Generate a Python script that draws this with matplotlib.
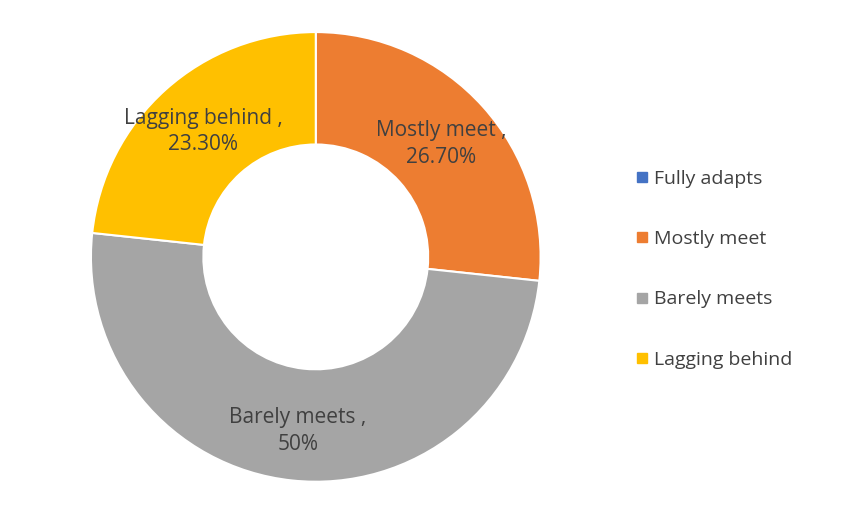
import numpy as np
import matplotlib.pyplot as plt
from matplotlib.lines import Line2D

plt.rcParams['font.family'] = ['Open Sans', 'DejaVu Sans']

categories = ["Fully adapts", "Mostly meet", "Barely meets", "Lagging behind"]
values = [0.0, 26.7, 50.0, 23.3]
value_labels = ["0%", "26.70%", "50%", "23.30%"]
colors = ["#4472C4", "#ED7D31", "#A5A5A5", "#FFC000"]
text_color = "#404040"

fig = plt.figure(figsize=(8.5, 5.07), dpi=100)
ax = fig.add_axes([0.107, 0.0493, 0.529, 0.888])

# zero slice is left out of the pie but kept in the legend
shown = [i for i, v in enumerate(values) if v > 0]
wedges, texts = ax.pie([values[i] for i in shown],
                       colors=[colors[i] for i in shown],
                       labels=["%s ,\n%s" % (categories[i], value_labels[i]) for i in shown],
                       labeldistance=0.75, startangle=90, counterclock=False,
                       radius=1.0,
                       wedgeprops=dict(width=0.5, edgecolor="white", linewidth=1.5),
                       textprops=dict(fontsize=15, color=text_color))
for t in texts:
    t.set_ha("center")
    t.set_va("center")
    t.set_multialignment("center")
    t.set_linespacing(1.35)
bx, by = texts[1].get_position()
texts[1].set_position((bx, by - 0.03))
ax.set_xlim(-1, 1)
ax.set_ylim(-1, 1)
ax.set_aspect("equal")

handles = [Line2D([], [], marker="s", linestyle="none", markersize=7,
                  markerfacecolor=c, markeredgecolor=c) for c in colors]
leg = fig.legend(handles, categories, loc="center left", bbox_to_anchor=(0.727, 0.469),
                 frameon=False, fontsize=14, labelspacing=2.17, handlelength=0.65,
                 handletextpad=0.3)
for t in leg.get_texts():
    t.set_color(text_color)

fig.savefig("out.png", dpi=100)
